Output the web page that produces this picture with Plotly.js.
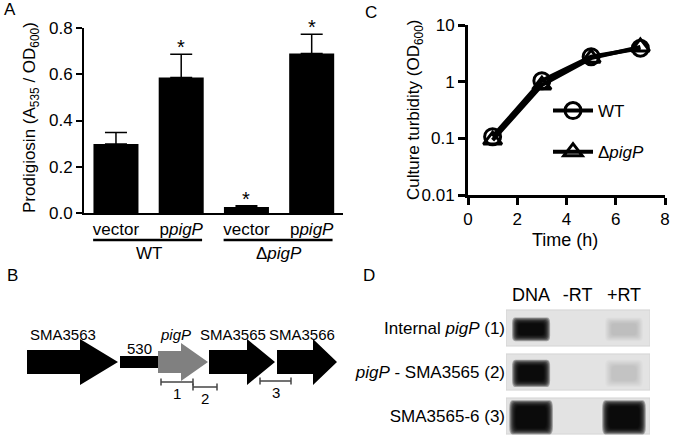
<!DOCTYPE html>
<html>
<head>
<meta charset="utf-8">
<script src="https://cdn.plot.ly/plotly-3.0.1.min.js"></script>
<style>
  html, body { margin: 0; padding: 0; background: #fff; }
  #chart { width: 675px; height: 437px; }
</style>
</head>
<body>
<div id="chart"></div>
<script>
// ---- panel A: prodigiosin bars ----
const conditions = ['vector', 'p<i>pigP</i>', 'vector', 'p<i>pigP</i>'];
const prodigiosin = [0.298, 0.586, 0.026, 0.69];
const prodigiosinErr = [0.05, 0.10, 0.005, 0.083];
const significant = [false, true, true, true];
const strainNames = ['WT', 'Δ<i>pigP</i>'];
const strainMembers = [[0, 1], [2, 3]];

// ---- panel C: growth curve ----
const hours = [1, 3, 5, 7];
const turbidityWT = [0.107, 1.04, 2.76, 3.9];
const turbidityPigP = [0.093, 0.87, 2.6, 4.1];

// ---- panel B: gene map (diagram units) ----
const geneNames = ['SMA3563', '<i>pigP</i>', 'SMA3565', 'SMA3566'];
const geneStart = [27, 158, 209, 277];
const geneHeadStart = [80, 181, 247, 313];
const geneEnd = [118, 208, 275, 337];
const geneColors = ['#000000', '#808080', '#000000', '#000000'];
const spacerStart = 120, spacerEnd = 158, spacerLabel = '530';
const ampliconNames = ['1', '2', '3'];
const ampliconStart = [161, 193, 260];
const ampliconEnd = [193, 217, 291];
const ampliconLevel = [-20, -25, -19];

// ---- panel D: RT-PCR gel ----
const laneLabels = ['DNA', '-RT', '+RT'];
const rowLabels = ['Internal <i>pigP</i> (1)', '<i>pigP</i> - SMA3565 (2)', 'SMA3565-6 (3)'];
const bandIntensity = [[1, 0, 0.065], [1, 0, 0.05], [1, 0, 1]];
const bandHalfHeight = [0.13, 0.17, 0.25];
const bandHalfWidth = [0.3, 0.3, 0.36];

const font = 'Liberation Sans, Arial, sans-serif';
const W = 675, H = 437;
const px = x => x / W;
const py = y => 1 - y / H;

const traces = [];
const shapes = [];
const annotations = [];

function label(x, y, text, size, extra) {
    return Object.assign({xref: 'paper', yref: 'paper', x: px(x), y: py(y), text: text,
        showarrow: false, xanchor: 'center', yanchor: 'middle', font: {size: size}}, extra || {});
}

// rounded rectangle path in data units
function roundRect(x0, x1, y0, y1, rx, ry) {
    return `M ${x0 + rx} ${y0} L ${x1 - rx} ${y0} Q ${x1} ${y0} ${x1} ${y0 + ry} ` +
        `L ${x1} ${y1 - ry} Q ${x1} ${y1} ${x1 - rx} ${y1} L ${x0 + rx} ${y1} ` +
        `Q ${x0} ${y1} ${x0} ${y1 - ry} L ${x0} ${y0 + ry} Q ${x0} ${y0} ${x0 + rx} ${y0} Z`;
}

// A
traces.push({
    type: 'bar', x: [0, 1, 2, 3], y: prodigiosin, width: 0.69,
    marker: {color: '#000'}, xaxis: 'x', yaxis: 'y', showlegend: false,
    error_y: {type: 'data', symmetric: false, array: prodigiosinErr,
        arrayminus: prodigiosinErr.map(() => 0), color: '#000', thickness: 1.5, width: 11},
    hoverinfo: 'skip'
});
significant.forEach((s, i) => {
    if (!s) return;
    annotations.push({xref: 'x', yref: 'y', x: i, y: prodigiosin[i] + prodigiosinErr[i],
        text: '*', showarrow: false, xanchor: 'center', yanchor: 'bottom', yshift: -6, font: {size: 20}});
});
strainMembers.forEach((m, g) => {
    shapes.push({type: 'line', xref: 'x', yref: 'paper', x0: m[0] - 0.35, x1: m[m.length - 1] + 0.32,
        y0: py(240), y1: py(240), line: {color: '#000', width: 2.5}});
    annotations.push({xref: 'x', yref: 'paper', x: (m[0] + m[m.length - 1]) / 2, y: py(253),
        text: strainNames[g], showarrow: false, xanchor: 'center', yanchor: 'middle', font: {size: 17}});
});

// C
traces.push({
    x: hours, y: turbidityWT, name: 'WT', mode: 'lines+markers', xaxis: 'x2', yaxis: 'y2',
    legendgroup: 'wt', line: {color: '#000', width: 4},
    marker: {symbol: 'circle-open', size: 16, color: '#000', line: {width: 3}}, cliponaxis: false
});
traces.push({
    x: hours, y: turbidityPigP, name: 'Δ<i>pigP</i>', mode: 'lines+markers', xaxis: 'x2', yaxis: 'y2',
    legendgroup: 'ko', line: {color: '#000', width: 4},
    marker: {symbol: 'triangle-up-open', size: 16, color: '#000', line: {width: 3}}, cliponaxis: false
});

// B
geneStart.forEach((s, i) => {
    const hs = geneHeadStart[i], e = geneEnd[i];
    const body = i === 1 ? 11 : 12, head = i === 1 ? 19 : 23;
    traces.push({
        x: [s, hs, hs, e, hs, hs, s, s], y: [body, body, head, 0, -head, -body, -body, body],
        fill: 'toself', fillcolor: geneColors[i], mode: 'lines', line: {width: 0},
        xaxis: 'x3', yaxis: 'y3', showlegend: false, hoverinfo: 'skip'
    });
    annotations.push({xref: 'x3', yref: 'y3', x: (s + e) / 2 + (i === 0 ? -10 : i === 2 ? -9 : i === 3 ? -5 : -8),
        y: 28, text: geneNames[i], showarrow: false, xanchor: 'center', yanchor: 'middle', font: {size: 15}});
});
traces.push({
    x: [spacerStart, spacerEnd, spacerEnd, spacerStart, spacerStart], y: [6, 6, -6, -6, 6],
    fill: 'toself', fillcolor: '#000', mode: 'lines', line: {width: 0},
    xaxis: 'x3', yaxis: 'y3', showlegend: false, hoverinfo: 'skip'
});
annotations.push({xref: 'x3', yref: 'y3', x: (spacerStart + spacerEnd) / 2, y: 14,
    text: spacerLabel, showarrow: false, xanchor: 'center', yanchor: 'middle', font: {size: 15}});
ampliconNames.forEach((n, i) => {
    traces.push({
        x: [ampliconStart[i], ampliconEnd[i]], y: [ampliconLevel[i], ampliconLevel[i]],
        mode: 'lines+markers', line: {color: '#444', width: 1.5},
        marker: {symbol: 'line-ns-open', size: 5, color: '#444', line: {width: 1.5, color: '#444'}},
        xaxis: 'x3', yaxis: 'y3', showlegend: false, hoverinfo: 'skip'
    });
    annotations.push({xref: 'x3', yref: 'y3', x: (ampliconStart[i] + ampliconEnd[i]) / 2,
        y: ampliconLevel[i] - 11, text: n, showarrow: false, xanchor: 'center', yanchor: 'middle', font: {size: 15}});
});

// D
rowLabels.forEach((r, row) => {
    shapes.push({type: 'rect', xref: 'x4', yref: 'y4', x0: -0.54, x1: 2.56, y0: row - 0.41, y1: row + 0.41,
        fillcolor: '#e3e3e3', line: {color: '#d4d4d4', width: 1}, layer: 'below'});
    bandIntensity[row].forEach((v, lane) => {
        if (v <= 0) return;
        const hh = bandHalfHeight[row], hw = bandHalfWidth[row];
        const n = 8;
        for (let k = 0; k < n; k++) {
            const grow = (n - 1 - k);
            const x0 = lane - hw + 0.03 - grow * 0.02, x1 = lane + hw - 0.03 + grow * 0.02;
            const y0 = row + 0.03 - hh - grow * 0.02, y1 = row + 0.03 + hh + grow * 0.02;
            shapes.push({type: 'path', xref: 'x4', yref: 'y4',
                path: roundRect(x0, x1, y0, y1, 0.07, (y1 - y0) * 0.25),
                fillcolor: '#000', opacity: Math.min(1, v * 0.3), line: {width: 0}, layer: 'above'});
        }
    });
});

const axisFont = {family: font, size: 17, color: '#000'};
const layout = {
    width: W, height: H, margin: {l: 0, r: 0, t: 0, b: 0},
    paper_bgcolor: '#fff', plot_bgcolor: 'rgba(0,0,0,0)',
    font: {family: font, color: '#000', size: 15},
    showlegend: true,
    legend: {x: px(548), y: py(93), xanchor: 'left', yanchor: 'top', bgcolor: 'rgba(0,0,0,0)',
        font: {size: 17}, tracegroupgap: 16, traceorder: 'grouped', itemwidth: 40},
    xaxis: {domain: [px(84), px(343)], range: [-0.49, 3.48], anchor: 'y',
        tickvals: [0, 1, 2, 3], ticktext: conditions, ticks: '', tickfont: axisFont,
        showline: true, linecolor: '#000', linewidth: 2, showgrid: false, zeroline: false, fixedrange: true},
    yaxis: {domain: [py(213), py(28)], range: [0, 0.8], anchor: 'x', dtick: 0.2, tickformat: '.1f',
        ticks: 'outside', ticklen: 6, tickwidth: 2, tickcolor: '#000', tickfont: axisFont,
        showline: true, linecolor: '#000', linewidth: 2, showgrid: false, zeroline: false},
    xaxis2: {domain: [px(468), px(665)], range: [0, 8], anchor: 'y2', dtick: 2,
        ticks: 'outside', ticklen: 7, tickwidth: 3, tickcolor: '#000', tickfont: axisFont,
        showline: true, linecolor: '#000', linewidth: 3, showgrid: false, zeroline: false},
    yaxis2: {domain: [py(195), py(25)], type: 'log', range: [-2, 1], anchor: 'x2',
        tickvals: [0.01, 0.1, 1, 10], ticktext: ['0.01', '0.1', '1', '10'],
        ticks: 'outside', ticklen: 7, tickwidth: 3, tickcolor: '#000', tickfont: axisFont,
        showline: true, linecolor: '#000', linewidth: 3, showgrid: false, zeroline: false},
    xaxis3: {domain: [0, px(351)], range: [0, 351], anchor: 'y3', visible: false},
    yaxis3: {domain: [py(407), py(317)], range: [-45, 45], anchor: 'x3', visible: false},
    xaxis4: {domain: [px(506), px(650)], range: [-0.54, 2.56], anchor: 'y4', side: 'top',
        tickvals: [0, 1, 2], ticktext: laneLabels, ticks: '', tickfont: {size: 18},
        showline: false, showgrid: false, zeroline: false},
    yaxis4: {domain: [0, py(306)], range: [2.477, -0.5], anchor: 'x4',
        tickvals: [0, 1, 2], ticktext: rowLabels, ticks: '', tickfont: {size: 17},
        showline: false, showgrid: false, zeroline: false},
    shapes: shapes,
    annotations: annotations.concat([
        label(31, 118, 'Prodigiosin (A<sub>535</sub> / OD<sub>600</sub>)', 17, {textangle: -90}),
        label(415, 110, 'Culture turbidity (OD<sub>600</sub>)', 17, {textangle: -90}),
        label(565, 240, 'Time (h)', 18),
        label(10, 9, 'A', 17),
        label(12, 275, 'B', 17),
        label(371, 12, 'C', 17),
        label(369, 275, 'D', 17)
    ])
};

Plotly.newPlot('chart', traces, layout, {displayModeBar: false, staticPlot: true});
</script>
</body>
</html>
